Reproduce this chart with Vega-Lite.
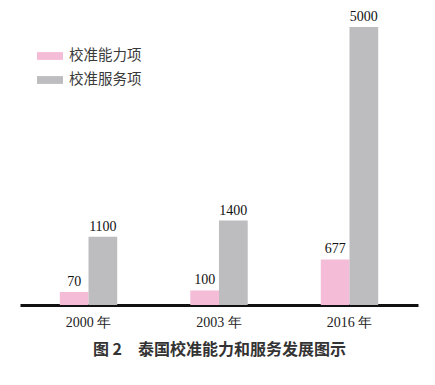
{
  "$schema": "https://vega.github.io/schema/vega-lite/v6.json",
  "autosize": "none",
  "width": 398,
  "height": 278,
  "padding": {"left": 20, "top": 27, "right": 17, "bottom": 80},
  "background": "white",
  "config": {"view": {"stroke": null}},
  "data": {
    "values": [
      {"year": "2000 年", "series": "校准能力项", "value": 70},
      {"year": "2000 年", "series": "校准服务项", "value": 1100},
      {"year": "2003 年", "series": "校准能力项", "value": 100},
      {"year": "2003 年", "series": "校准服务项", "value": 1400},
      {"year": "2016 年", "series": "校准能力项", "value": 677},
      {"year": "2016 年", "series": "校准服务项", "value": 5000}
    ]
  },
  "encoding": {
    "x": {
      "field": "year", "type": "nominal", "sort": null,
      "scale": {"paddingInner": 0.56, "paddingOuter": 0.305},
      "axis": {
        "title": "图 2　泰国校准能力和服务发展图示",
        "titleFont": "Noto Sans CJK SC", "titleFontSize": 16, "titleFontWeight": "bold",
        "titleColor": "#333333", "titlePadding": 12,
        "labelAngle": 0, "labelFont": "Liberation Serif", "labelFontSize": 14,
        "labelColor": "#222222", "labelPadding": 10,
        "ticks": false, "domainColor": "#111111", "domainWidth": 3
      }
    },
    "xOffset": {"field": "series", "type": "nominal", "sort": ["校准能力项", "校准服务项"], "scale": {"paddingInner": 0}},
    "y": {
      "field": "value", "type": "quantitative",
      "scale": {"domain": [-170, 5000], "nice": false, "zero": false},
      "axis": null
    }
  },
  "layer": [
    {
      "mark": {"type": "bar"},
      "encoding": {
        "y2": {"datum": -170},
        "color": {
          "field": "series", "type": "nominal", "sort": ["校准能力项", "校准服务项"],
          "scale": {"range": ["#f4bcd6", "#bdbdbf"]},
          "legend": {
            "title": null, "orient": "none", "legendX": 17, "legendY": 16,
            "symbolType": "M-1,-0.3H1V0.3H-1Z", "symbolSize": 676,
            "symbolStrokeWidth": 0, "symbolOpacity": 1,
            "labelFont": "Noto Sans CJK SC", "labelFontSize": 14.5, "labelColor": "#3a3a3a",
            "labelOffset": 6, "rowPadding": 4
          }
        }
      }
    },
    {
      "mark": {"type": "text", "baseline": "bottom", "dy": -3, "font": "Liberation Serif", "fontSize": 14, "color": "#111111"},
      "encoding": {"text": {"field": "value", "type": "quantitative", "format": "d"}}
    }
  ]
}
